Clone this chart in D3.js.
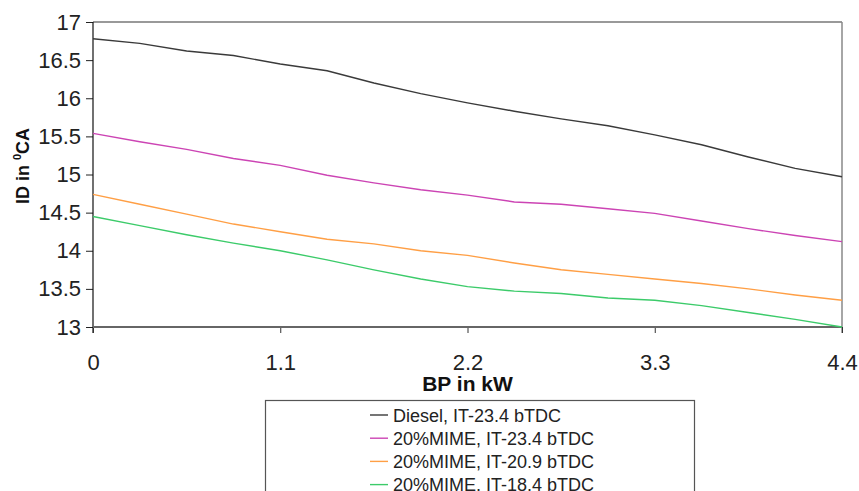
<!DOCTYPE html>
<html>
<head>
<meta charset="utf-8">
<script src="https://cdn.jsdelivr.net/npm/d3@7"></script>
<style>
  body { margin: 0; background: #fff; }
  svg { font-family: "Liberation Sans", Arial, sans-serif; }
</style>
</head>
<body>
<div id="chart"></div>
<script>
// BP in kW (shared by all series)
var bp = [0, 0.275, 0.55, 0.825, 1.1, 1.375, 1.65, 1.925, 2.2, 2.475, 2.75, 3.025, 3.3, 3.575, 3.85, 4.125, 4.4];

// ignition delay, deg CA
var diesel234 = [16.78, 16.72, 16.62, 16.56, 16.45, 16.36, 16.20, 16.06, 15.94, 15.83, 15.73, 15.64, 15.52, 15.39, 15.23, 15.08, 14.97];
var mime234   = [15.54, 15.43, 15.33, 15.21, 15.12, 14.99, 14.89, 14.80, 14.73, 14.64, 14.61, 14.55, 14.49, 14.39, 14.29, 14.20, 14.12];
var mime209   = [14.74, 14.61, 14.48, 14.35, 14.25, 14.15, 14.09, 14.00, 13.94, 13.84, 13.75, 13.69, 13.63, 13.57, 13.50, 13.42, 13.35];
var mime184   = [14.45, 14.33, 14.21, 14.10, 14.00, 13.88, 13.75, 13.63, 13.53, 13.47, 13.44, 13.38, 13.35, 13.28, 13.19, 13.10, 13.00];

var seriesNames = ["Diesel, IT-23.4 bTDC", "20%MIME, IT-23.4 bTDC", "20%MIME, IT-20.9 bTDC", "20%MIME, IT-18.4 bTDC"];
var seriesColors = ["#3a3a3a", "#cc44b4", "#ff9f45", "#3ccb6a"];

var xTicks = [0, 1.1, 2.2, 3.3, 4.4];
var yTicks = [13, 13.5, 14, 14.5, 15, 15.5, 16, 16.5, 17];

var series = [diesel234, mime234, mime209, mime184].map(function(vals, i) {
    return { name: seriesNames[i], color: seriesColors[i],
             points: vals.map(function(v, j) { return { x: bp[j], y: v }; }) };
});

var margin = {top: 22, right: 17, bottom: 164, left: 93},
    width = 859 - margin.left - margin.right,
    height = 491 - margin.top - margin.bottom;

var x = d3.scaleLinear().domain([0, 4.4]).range([0, width]);
var y = d3.scaleLinear().domain([13, 17]).range([height, 0]);

var svg = d3.select("#chart")
    .append("svg")
        .attr("width", 859)
        .attr("height", 491)
    .append("g")
        .attr("transform", "translate(" + margin.left + "," + margin.top + ")");

// frame: top and right borders
svg.append("line")
    .attr("x1", 0).attr("x2", width).attr("y1", 0).attr("y2", 0)
    .attr("stroke", "#777").attr("stroke-width", 1.5);
svg.append("line")
    .attr("x1", width).attr("x2", width).attr("y1", 0).attr("y2", height + 6)
    .attr("stroke", "#888").attr("stroke-width", 1.5);

// y axis
var yAxis = d3.axisLeft(y).tickValues(yTicks).tickSize(7).tickPadding(5)
    .tickFormat(function(d) { return String(d); });
var gy = svg.append("g").call(yAxis);
gy.select(".domain").remove();
gy.selectAll(".tick line").attr("stroke", "#222");
gy.selectAll(".tick text")
    .attr("font-size", "22px")
    .attr("fill", "#222")
    .attr("font-family", "Liberation Sans, Arial, sans-serif");
svg.append("line")
    .attr("x1", 0).attr("x2", 0).attr("y1", 0).attr("y2", height + 6)
    .attr("stroke", "#111").attr("stroke-width", 1.2);

// x axis
var xAxis = d3.axisBottom(x).tickValues(xTicks).tickSize(6).tickPadding(21)
    .tickFormat(function(d) { return String(d); });
var gx = svg.append("g")
    .attr("transform", "translate(0," + height + ")")
    .call(xAxis);
gx.select(".domain").remove();
gx.selectAll(".tick line").attr("stroke", "#333");
gx.selectAll(".tick text")
    .attr("font-size", "22px")
    .attr("fill", "#222")
    .attr("font-family", "Liberation Sans, Arial, sans-serif");
svg.append("line")
    .attr("x1", 0).attr("x2", width).attr("y1", height).attr("y2", height)
    .attr("stroke", "#666").attr("stroke-width", 2.2);

// lines
var line = d3.line()
    .x(function(d) { return x(d.x); })
    .y(function(d) { return y(d.y); });

svg.selectAll(".series")
    .data(series)
    .enter()
    .append("path")
        .attr("class", "series")
        .attr("fill", "none")
        .attr("stroke", function(d) { return d.color; })
        .attr("stroke-width", 1.4)
        .attr("d", function(d) { return line(d.points); });

// axis titles
svg.append("text")
    .attr("x", x(2.2))
    .attr("y", height + 64)
    .attr("text-anchor", "middle")
    .attr("font-size", "21px")
    .attr("font-weight", "bold")
    .attr("fill", "#111")
    .text("BP in kW");

var yTitle = svg.append("text")
    .attr("transform", "translate(" + (-64) + "," + (166 - margin.top) + ") rotate(-90)")
    .attr("text-anchor", "middle")
    .attr("font-size", "18px")
    .attr("font-weight", "bold")
    .attr("fill", "#111");
yTitle.append("tspan").text("ID in ");
yTitle.append("tspan").attr("font-size", "11px").attr("dy", "-8").text("0");
yTitle.append("tspan").attr("dy", "8").text("CA");

// legend
var legend = d3.select("svg").append("g");
legend.append("rect")
    .attr("x", 265.5).attr("y", 400.5)
    .attr("width", 429).attr("height", 100)
    .attr("fill", "#fff")
    .attr("stroke", "#555").attr("stroke-width", 1.2);

var items = legend.selectAll(".item")
    .data(series)
    .enter()
    .append("g")
        .attr("class", "item")
        .attr("transform", function(d, i) { return "translate(370," + (415 + i * 23.2) + ")"; });
items.append("line")
    .attr("x1", 0).attr("x2", 18).attr("y1", 0).attr("y2", 0)
    .attr("stroke", function(d) { return d.color; })
    .attr("stroke-width", 1.4);
items.append("text")
    .attr("x", 23)
    .attr("y", 6.5)
    .attr("font-size", "18px")
    .attr("fill", "#222")
    .text(function(d) { return d.name; });
</script>
</body>
</html>
